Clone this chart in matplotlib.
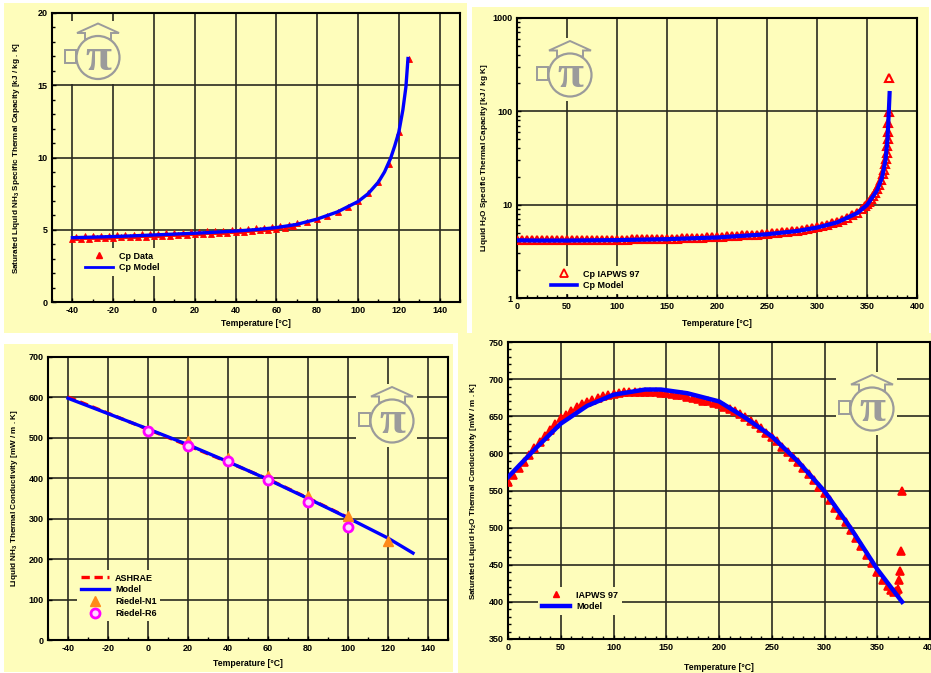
import matplotlib
matplotlib.use("Agg")
import matplotlib.pyplot as plt
from matplotlib.patches import Rectangle, Circle, Polygon
from matplotlib.ticker import MultipleLocator, LogLocator, NullFormatter, FuncFormatter
from matplotlib.lines import Line2D

plt.rcParams['font.family'] = ['Liberation Sans', 'DejaVu Sans']
plt.rcParams['font.weight'] = 'bold'
plt.rcParams['axes.unicode_minus'] = False

# ---------------------------------------------------------------- data
# Liquid NH3 specific heat capacity [kJ/kg.K]
nh3_cp_T = [-40, -38, -36, -34, -32, -30, -28, -26, -24, -22, -20, -18, -16, -14,
            -12, -10, -8, -6, -4, -2, 0, 2, 4, 6, 8, 10, 12, 14, 16, 18, 20, 22,
            24, 26, 28, 30, 32, 34, 36, 38, 40, 42, 44, 46, 48, 50, 52, 54, 56,
            58, 60, 62, 64, 66, 68, 70, 75, 80, 85, 90, 95, 100, 105, 110, 115,
            120, 125]
nh3_cp = [4.36, 4.53, 4.38, 4.54, 4.39, 4.56, 4.41, 4.58, 4.43, 4.60, 4.45, 4.62,
          4.47, 4.64, 4.49, 4.66, 4.51, 4.68, 4.53, 4.70, 4.55, 4.72, 4.58, 4.75,
          4.60, 4.78, 4.63, 4.80, 4.66, 4.83, 4.68, 4.85, 4.71, 4.88, 4.74, 4.91,
          4.77, 4.94, 4.80, 4.98, 4.83, 5.01, 4.87, 5.05, 4.91, 5.09, 4.96, 5.14,
          5.01, 5.20, 5.07, 5.27, 5.15, 5.35, 5.24, 5.45, 5.55, 5.74, 5.96, 6.25,
          6.57, 6.98, 7.55, 8.32, 9.52, 11.75, 16.85]
nh3_cp_model_T = [-40, -30, -20, -10, 0, 10, 20, 30, 40, 50, 60, 70, 80, 90, 100,
                  105, 110, 113, 116, 118, 120, 122, 123.5, 124.5]
nh3_cp_model = [4.45, 4.49, 4.53, 4.58, 4.64, 4.70, 4.76, 4.83, 4.91, 5.01, 5.15,
                5.37, 5.74, 6.24, 6.95, 7.50, 8.30, 9.00, 9.95, 10.8, 11.75, 13.3,
                14.9, 16.85]

# Liquid H2O specific heat capacity [kJ/kg.K], IAPWS 97 and model
h2o_cp_T = [0, 5, 10, 15, 20, 25, 30, 35, 40, 45, 50, 55, 60, 65, 70, 75, 80, 85,
            90, 95, 100, 105, 110, 115, 120, 125, 130, 135, 140, 145, 150, 155,
            160, 165, 170, 175, 180, 185, 190, 195, 200, 205, 210, 215, 220, 225,
            230, 235, 240, 245, 250, 255, 260, 265, 270, 275, 280, 285, 290, 295,
            300, 305, 310, 315, 320, 325, 330, 335, 340, 345, 348, 350, 352, 354,
            356, 358, 360, 362, 364, 366, 367, 368, 369, 369.7, 370.3, 370.8,
            371.2, 371.4, 371.6, 372.2]
h2o_cp = [4.22, 4.20, 4.19, 4.19, 4.18, 4.18, 4.18, 4.18, 4.18, 4.18, 4.18, 4.18,
          4.19, 4.19, 4.19, 4.19, 4.20, 4.20, 4.21, 4.21, 4.22, 4.22, 4.23, 4.24,
          4.25, 4.25, 4.27, 4.28, 4.29, 4.30, 4.31, 4.32, 4.34, 4.35, 4.37, 4.39,
          4.41, 4.43, 4.45, 4.47, 4.50, 4.53, 4.56, 4.60, 4.64, 4.68, 4.72, 4.74,
          4.77, 4.82, 4.87, 4.93, 5.00, 5.07, 5.15, 5.21, 5.28, 5.38, 5.49, 5.61,
          5.75, 5.90, 6.08, 6.29, 6.54, 6.86, 7.24, 7.70, 8.24, 9.00, 9.60, 10.1,
          10.7, 11.4, 12.3, 13.4, 14.7, 16.3, 18.4, 21.5, 23.5, 27.0, 31.0, 35.5,
          42.0, 50.0, 60.0, 75.0, 99.0, 230.0]
h2o_cp_model_T = [0, 20, 50, 100, 150, 200, 250, 280, 300, 320, 340, 350, 360,
                  365, 368.5, 370.5, 371.8, 372.6]
h2o_cp_model = [4.15, 4.13, 4.13, 4.17, 4.27, 4.45, 4.82, 5.22, 5.68, 6.45, 8.10,
                9.90, 14.2, 19.5, 30.0, 50.0, 99.0, 157.0]

# Liquid NH3 thermal conductivity [mW/m.K]
nh3_k_T = [-40, -20, 0, 20, 40, 60, 80, 100, 120, 132.5]
nh3_k_model = [598, 560, 522, 483, 441, 397, 350, 302, 252, 215]
nh3_k_ashrae_T = [-40, -20, 0, 20, 40, 60, 80, 100]
nh3_k_ashrae = [601, 561, 521, 481, 440, 398, 351, 303]
riedel_n1_T = [20, 40, 60, 80, 100, 120]
riedel_n1 = [492, 451, 405, 357, 307, 246]
riedel_r6_T = [0, 20, 40, 60, 80, 100]
riedel_r6 = [517, 481, 442, 396, 342, 280]

# Saturated liquid H2O thermal conductivity [mW/m.K]
h2o_k_T = [0, 5, 10, 15, 20, 25, 30, 35, 40, 45, 50, 55, 60, 65, 70, 75, 80, 85,
           90, 95, 100, 105, 110, 115, 120, 125, 130, 135, 140, 145, 150, 155,
           160, 165, 170, 175, 180, 185, 190, 195, 200, 205, 210, 215, 220, 225,
           230, 235, 240, 245, 250, 255, 260, 265, 270, 275, 280, 285, 290, 295,
           300, 305, 310, 315, 320, 325, 330, 335, 340, 345, 350, 355, 360, 363,
           366, 368, 369.5, 370.4, 371.3, 372.6, 373.5]
h2o_k = [561, 571, 580, 589, 598, 607, 615, 623, 632, 640, 647, 652, 657, 662,
         666, 669, 672, 675, 677, 679, 680, 681, 682, 682, 683, 683, 683, 683,
         682, 681, 681, 680, 679, 678, 676, 675, 673, 671, 670, 668, 666, 663,
         660, 657, 653, 649, 644, 639, 634, 628, 622, 616, 609, 602, 595, 588,
         580, 572, 564, 555, 546, 537, 527, 517, 507, 497, 486, 475, 463, 452,
         440, 430, 421, 416, 413, 414, 418, 429, 442, 469, 550]
h2o_k_model_T = [0, 25, 50, 75, 100, 130, 145, 170, 200, 225, 250, 275, 300, 325,
                 350, 373.5]
h2o_k_model = [568, 605, 640, 664, 679, 686, 686, 681, 670, 648, 623, 589, 549,
               499, 444, 400]

# ---------------------------------------------------------------- styling
W, H = 931, 673
YELLOW = '#FEFDBB'
GRID = '#2a2a20'
LOGO = '#9b9b9b'
RED = '#FF0000'
BLUE = '#0000FF'
ORANGE = '#FF8A1A'
MAGENTA = '#FF00FF'
TICK_FS = 6.5
LEG_FS = 6.5

fig = plt.figure(figsize=(W / 100, H / 100), dpi=100, facecolor='white')


def px_box(l, t, r, b):
    return [l / W, 1 - b / H, (r - l) / W, (b - t) / H]


def fig_pt(x, y):
    return (x / W, 1 - y / H)


# panel backgrounds
bg = fig.add_axes([0, 0, 1, 1], zorder=-10)
bg.set_xlim(0, W)
bg.set_ylim(H, 0)
bg.axis('off')
for (l, t, r, b) in [(4, 3, 467, 333), (472, 7, 929, 333),
                     (4, 344, 453, 672), (458, 333, 931, 673)]:
    bg.add_patch(Rectangle((l, t), r - l, b - t, color=YELLOW, lw=0))


def style_axes(ax, box, xlabel, ylabel, ylab_x, xlab_y):
    ax.set_facecolor(YELLOW)
    ax.grid(True, which='major', color=GRID, lw=1.2)
    ax.set_axisbelow(True)
    for s in ax.spines.values():
        s.set_linewidth(1.5)
        s.set_color('black')
    ax.tick_params(which='both', direction='in', labelsize=TICK_FS, pad=3,
                   width=1.0, color='black')
    ax.tick_params(which='major', length=3)
    ax.tick_params(which='minor', length=2.5)
    for lab in ax.get_xticklabels() + ax.get_yticklabels():
        lab.set_fontweight('bold')
    l, t, r, b = box
    ax.set_xlabel(xlabel, fontsize=6.2, fontweight='bold')
    ax.set_ylabel(ylabel, fontsize=5.9, fontweight='bold')
    ax.xaxis.label.set_va('center')
    ax.yaxis.label.set_va('center')
    ax.xaxis.set_label_coords(0.5, -(xlab_y - b) / (b - t))
    ax.yaxis.set_label_coords(-(l - ylab_x) / (r - l), 0.5)


def legend_at(ax, handles, labels, x, y, **kw):
    leg = ax.legend(handles, labels, loc='upper left',
                    bbox_to_anchor=fig_pt(x, y), bbox_transform=fig.transFigure,
                    fontsize=LEG_FS, frameon=True, facecolor=YELLOW,
                    edgecolor='none', framealpha=1, fancybox=False,
                    borderpad=0.4, borderaxespad=0, labelspacing=0.3,
                    handletextpad=0.7, **kw)
    for txt in leg.get_texts():
        txt.set_fontweight('bold')
    return leg


fmt_g = FuncFormatter(lambda v, _: f'{v:g}')

# ---------------------------------------------------------------- NH3 Cp
box1 = (52, 13, 460, 302)
ax1 = fig.add_axes(px_box(*box1))
ax1.plot(nh3_cp_T, nh3_cp, ls='none', marker='^', ms=4.4, mfc=RED, mec=RED,
         mew=0.6, zorder=3)
ax1.plot(nh3_cp_model_T, nh3_cp_model, color=BLUE, lw=2.4, zorder=4)
ax1.set_xlim(-50, 150)
ax1.set_ylim(0, 20)
ax1.xaxis.set_major_locator(MultipleLocator(20))
ax1.xaxis.set_minor_locator(MultipleLocator(10))
ax1.yaxis.set_major_locator(MultipleLocator(5))
ax1.yaxis.set_minor_locator(MultipleLocator(1))
ax1.xaxis.set_major_formatter(fmt_g)
ax1.yaxis.set_major_formatter(fmt_g)
style_axes(ax1, box1, 'Temperature [°C]',
           r'Saturated Liquid NH$_\mathregular{3}$ Specific Thermal Capacity [kJ / kg . K]',
           17, 324)
legend_at(ax1,
          [Line2D([], [], ls='none', marker='^', ms=5, mfc=RED, mec=RED),
           Line2D([], [], color=BLUE, lw=2)],
          ['Cp Data', 'Cp Model'], 81, 248, handlelength=3.1)

# ---------------------------------------------------------------- H2O Cp
box2 = (517, 18, 917, 298)
ax2 = fig.add_axes(px_box(*box2))
ax2.plot(h2o_cp_T, h2o_cp, ls='none', marker='^', ms=6, mfc='none', mec=RED,
         mew=1.5, zorder=3)
ax2.plot(h2o_cp_model_T, h2o_cp_model, color=BLUE, lw=3, zorder=4)
ax2.set_yscale('log')
ax2.set_xlim(0, 400)
ax2.set_ylim(1, 1000)
ax2.xaxis.set_major_locator(MultipleLocator(50))
ax2.xaxis.set_minor_locator(MultipleLocator(10))
ax2.yaxis.set_major_locator(LogLocator(base=10))
ax2.yaxis.set_minor_locator(LogLocator(base=10, subs=[2, 3, 4, 5, 6, 7, 8, 9]))
ax2.yaxis.set_minor_formatter(NullFormatter())
ax2.xaxis.set_major_formatter(fmt_g)
ax2.yaxis.set_major_formatter(fmt_g)
style_axes(ax2, box2, 'Temperature [°C]',
           r'Liquid H$_\mathregular{2}$O Specific Thermal Capacity [kJ / kg K]',
           484, 324)
legend_at(ax2,
          [Line2D([], [], ls='none', marker='^', ms=6, mfc='none', mec=RED,
                  mew=1.3),
           Line2D([], [], color=BLUE, lw=2.6)],
          ['Cp IAPWS 97', 'Cp Model'], 547, 266, handlelength=2.9)

# ---------------------------------------------------------------- NH3 k
box3 = (48, 357, 448, 640)
ax3 = fig.add_axes(px_box(*box3))
ax3.plot(nh3_k_ashrae_T, nh3_k_ashrae, color=RED, lw=2.4, ls=(0, (2.5, 1.4)),
         zorder=3)
ax3.plot(nh3_k_T, nh3_k_model, color=BLUE, lw=2.4, zorder=4)
ax3.plot(riedel_n1_T, riedel_n1, ls='none', marker='^', ms=7, mfc=ORANGE,
         mec=ORANGE, zorder=5)
ax3.plot(riedel_r6_T, riedel_r6, ls='none', marker='o', ms=6.5, mfc='#FFD6FF',
         mec=MAGENTA, mew=2, zorder=6)
ax3.set_xlim(-50, 150)
ax3.set_ylim(0, 700)
ax3.xaxis.set_major_locator(MultipleLocator(20))
ax3.xaxis.set_minor_locator(MultipleLocator(10))
ax3.yaxis.set_major_locator(MultipleLocator(100))
ax3.xaxis.set_major_formatter(fmt_g)
ax3.yaxis.set_major_formatter(fmt_g)
style_axes(ax3, box3, 'Temperature [°C]',
           r'Liquid NH$_\mathregular{3}$ Thermal Conductivity [mW / m . K]',
           15, 663)
legend_at(ax3,
          [Line2D([], [], color=RED, lw=2.4, ls=(0, (2.5, 1.4))),
           Line2D([], [], color=BLUE, lw=2.4),
           Line2D([], [], ls='none', marker='^', ms=7, mfc=ORANGE, mec=ORANGE),
           Line2D([], [], ls='none', marker='o', ms=6.5, mfc='#FFD6FF',
                  mec=MAGENTA, mew=2)],
          ['ASHRAE', 'Model', 'Riedel-N1', 'Riedel-R6'], 77, 570,
          handlelength=3.1)

# ---------------------------------------------------------------- H2O k
box4 = (508, 342, 930, 639)
ax4 = fig.add_axes(px_box(*box4))
ax4.plot(h2o_k_T, h2o_k, ls='none', marker='^', ms=5.5, mfc=RED, mec=RED,
         mew=1.2, zorder=3)
ax4.plot(h2o_k_model_T, h2o_k_model, color=BLUE, lw=3.2, zorder=4)
ax4.set_xlim(0, 400)
ax4.set_ylim(350, 750)
ax4.xaxis.set_major_locator(MultipleLocator(50))
ax4.xaxis.set_minor_locator(MultipleLocator(10))
ax4.yaxis.set_major_locator(MultipleLocator(50))
ax4.yaxis.set_minor_locator(MultipleLocator(10))
ax4.xaxis.set_major_formatter(fmt_g)
ax4.yaxis.set_major_formatter(fmt_g)
style_axes(ax4, box4, 'Temperature [°C]',
           r'Saturated Liquid H$_\mathregular{2}$O Thermal Conductivity [mW / m . K]',
           473, 667)
legend_at(ax4,
          [Line2D([], [], ls='none', marker='^', ms=4, mfc=RED, mec=RED),
           Line2D([], [], color=BLUE, lw=3.2)],
          ['IAPWS 97', 'Model'], 538, 587, handlelength=3.1)

# ---------------------------------------------------------------- logos
top = fig.add_axes([0, 0, 1, 1], zorder=5)
top.set_xlim(0, W)
top.set_ylim(H, 0)
top.axis('off')


def logo(cx, cy, r=21.5):
    top.add_patch(Rectangle((cx - 36, cy - 37), 61, 63, color=YELLOW, lw=0))
    top.add_patch(Rectangle((cx - 33, cy - 8), 11, 13, fill=False, ec=LOGO,
                            lw=1.4))
    top.add_patch(Polygon([(cx - 13, cy - r + 3), (cx - 13, cy - r - 3),
                           (cx - 21, cy - r - 3), (cx, cy - r - 12.5),
                           (cx + 21, cy - r - 3), (cx + 13, cy - r - 3),
                           (cx + 13, cy - r + 3)], closed=True, fc=YELLOW,
                          ec=LOGO, lw=1.4))
    top.add_patch(Circle((cx, cy), r, fc=YELLOW, ec=LOGO, lw=1.6))
    top.text(cx, cy + 1, 'π', ha='center', va='center', fontsize=34,
             color=LOGO, family='Liberation Serif', fontweight='bold')


logo(98, 57.5)
logo(570, 75)
logo(392, 421)
logo(872, 409)

fig.savefig('out.png', dpi=100, facecolor='white')
